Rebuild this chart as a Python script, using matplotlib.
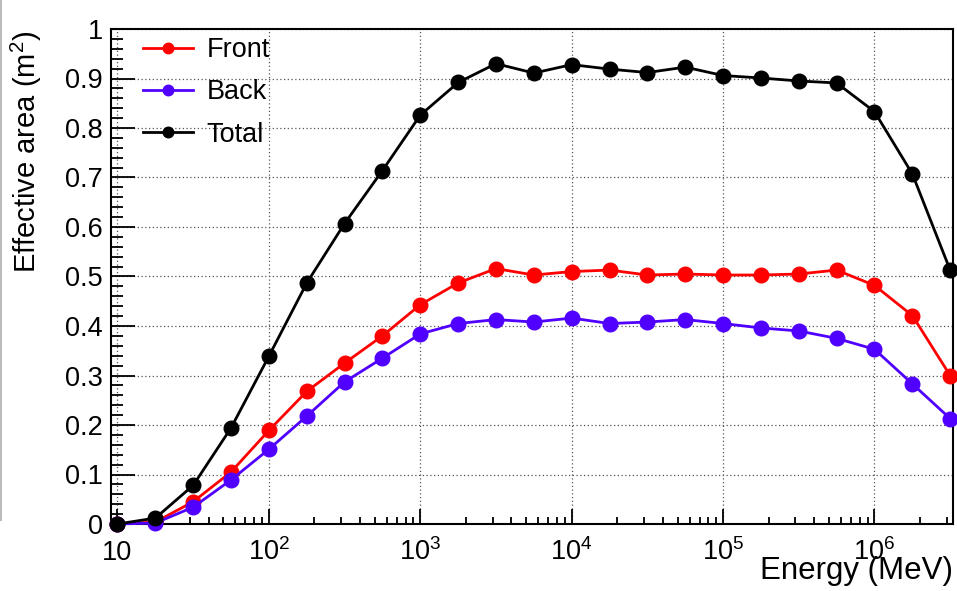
import numpy as np
import matplotlib
matplotlib.use("Agg")
import matplotlib.pyplot as plt
from matplotlib.ticker import MultipleLocator, LogLocator, FixedLocator, FuncFormatter, NullFormatter
from matplotlib.lines import Line2D

# data (energy in MeV, effective area in m^2)
energy = [10, 17.8, 31.6, 56.2, 100, 178, 316, 562, 1000, 1780, 3160, 5620,
          1e4, 1.78e4, 3.16e4, 5.62e4, 1e5, 1.78e5, 3.16e5, 5.62e5, 1e6, 1.78e6, 3.16e6]
front = [0.0, 0.004, 0.045, 0.105, 0.189, 0.268, 0.325, 0.380, 0.443, 0.487, 0.516, 0.503,
         0.510, 0.513, 0.503, 0.505, 0.503, 0.503, 0.505, 0.513, 0.482, 0.421, 0.300]
back = [0.0, 0.002, 0.034, 0.089, 0.151, 0.218, 0.287, 0.335, 0.384, 0.405, 0.413, 0.408,
        0.416, 0.405, 0.408, 0.413, 0.405, 0.396, 0.390, 0.375, 0.353, 0.283, 0.213]
total = [0.0, 0.012, 0.078, 0.194, 0.339, 0.487, 0.607, 0.714, 0.826, 0.892, 0.930, 0.911,
         0.928, 0.919, 0.912, 0.923, 0.906, 0.901, 0.895, 0.891, 0.833, 0.707, 0.513]

x_major = [10, 1e2, 1e3, 1e4, 1e5, 1e6]
x_labels = ["10", "$10^{2}$", "$10^{3}$", "$10^{4}$", "$10^{5}$", "$10^{6}$"]

plt.rcParams["font.family"] = ["Liberation Sans", "DejaVu Sans"]
plt.rcParams["mathtext.fontset"] = "custom"
plt.rcParams["mathtext.rm"] = "Liberation Sans"
plt.rcParams["mathtext.default"] = "regular"
fs = 19.5

W, H = 957, 591
fig = plt.figure(figsize=(W / 100, H / 100), dpi=100)
ax = fig.add_axes([111 / W, 1 - 524 / H, (953 - 111) / W, (524 - 29) / H])

series = [("Front", front, "#ff0000"), ("Back", back, "#5000ff"), ("Total", total, "#000000")]
for name, vals, col in series:
    ax.plot(energy, vals, color=col, lw=2, marker="o", ms=10.5, label=name,
            clip_on=False, zorder=3)

ax.set_xscale("log")
ax.set_xlim(9.06, 3.3e6)
ax.set_ylim(0, 1)

ax.xaxis.set_major_locator(FixedLocator(x_major))
ax.set_xticklabels(x_labels)
ax.xaxis.set_minor_locator(LogLocator(base=10, subs=np.arange(2, 10)))
ax.xaxis.set_minor_formatter(NullFormatter())
ax.yaxis.set_major_locator(MultipleLocator(0.1))
ax.yaxis.set_minor_locator(MultipleLocator(0.02))
ax.yaxis.set_major_formatter(FuncFormatter(lambda v, p: "%g" % round(v, 2)))

ax.tick_params(which="both", direction="in", top=False, right=False, width=1.3)
ax.tick_params(axis="y", which="major", length=17, pad=6, labelsize=fs)
ax.tick_params(axis="y", which="minor", length=8.5)
ax.tick_params(axis="x", which="major", length=11, pad=26, labelsize=fs)
ax.tick_params(axis="x", which="minor", length=5)
for lbl in ax.get_xticklabels():
    lbl.set_va("baseline")

for s in ax.spines.values():
    s.set_linewidth(1.5)

ax.grid(True, which="major", color="#555555", lw=0.9, ls=(0, (1, 2)))
ax.set_axisbelow(True)

ax.legend(loc="upper left", bbox_to_anchor=(143 / W, 1 - 37 / H), bbox_transform=fig.transFigure,
          frameon=False, fontsize=fs, borderpad=0, borderaxespad=0, handlelength=1.85,
          handletextpad=0.5, labelspacing=0.6, markerscale=0.72)

fig.text(26 / W, 1 - 30 / H, "Effective area (m$^{2}$)", rotation=90, ha="center", va="top", fontsize=21)
fig.text(953 / W, 1 - 571 / H, "Energy (MeV)", ha="right", va="center", fontsize=22.5)

fig.add_artist(Line2D([0.001, 0.001], [1, 1 - 520 / H], transform=fig.transFigure,
                      color="#bbbbbb", lw=1.5))

fig.savefig("out.png", dpi=100)
